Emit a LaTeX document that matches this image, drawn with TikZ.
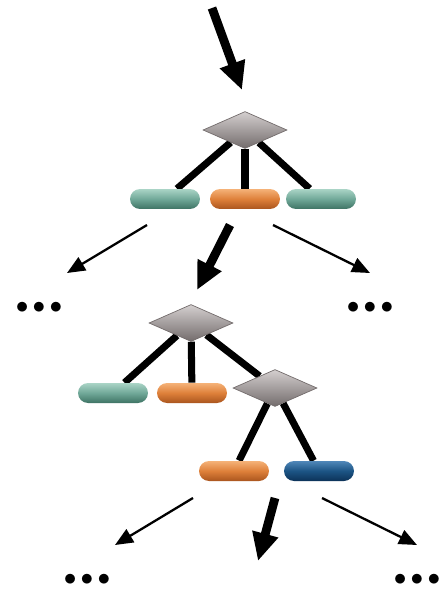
\documentclass[tikz,border=0pt]{standalone}
\usepackage{tikz}
\usetikzlibrary{arrows.meta,backgrounds}
\usetikzlibrary{shapes.geometric}
\definecolor{tealmid}{RGB}{112,168,152}
\definecolor{teallight}{RGB}{170,212,198}
\definecolor{tealdark}{RGB}{62,115,100}
\definecolor{orangemid}{RGB}{222,128,58}
\definecolor{orangelight}{RGB}{245,178,120}
\definecolor{orangedark}{RGB}{170,85,30}
\definecolor{bluemid}{RGB}{28,84,132}
\definecolor{bluelight}{RGB}{80,135,185}
\definecolor{bluedark}{RGB}{12,50,88}
\definecolor{greylight}{RGB}{212,207,207}
\definecolor{greydark}{RGB}{115,108,108}

\begin{document}
\begin{tikzpicture}[x=0.02cm,y=-0.02cm]
			\def\lw{4pt}

			\tikzset{line/.style={draw,line width=\lw,black}}
			\tikzset{bigarrow/.style={draw,line width=5pt,-{Triangle[length=0.56cm,width=0.5cm]}}}
			\tikzset{smallarrow/.style={draw,line width=1.3pt,-{Triangle[length=0.36cm,width=0.3cm]}}}
			\tikzset{pill/.style={shape=rectangle,rounded corners=0.2cm,minimum width=1.4cm,minimum height=0.4cm,inner sep=0pt}}
			\tikzset{teal/.style={pill,top color=teallight,bottom color=tealdark,middle color=tealmid}}
			\tikzset{orng/.style={pill,top color=orangelight,bottom color=orangedark,middle color=orangemid}}
			\tikzset{blu/.style={pill,top color=bluelight,bottom color=bluedark,middle color=bluemid}}
			\tikzset{split/.style={shape=diamond,minimum width=1.68cm,minimum height=0.74cm,inner sep=0pt,top color=greylight,bottom color=greydark,draw=greydark,line width=0.4pt}}
			\tikzset{more/.style={inner sep=0pt,font=\fontsize{15}{15}\selectfont}}
			\def\dots{$\bullet\mkern-1mu\bullet\mkern-1mu\bullet$}

			\useasboundingbox (0,0) rectangle (443,591);

			% first split
			\node[split] (d1) at (245,130) {};
			\node[teal] (p1) at (165,199) {};
			\node[orng] (p2) at (245,199) {};
			\node[teal] (p3) at (321,199) {};

			% second split
			\node[split] (d2) at (191,323) {};
			\node[teal] (q1) at (113,393) {};
			\node[orng] (q2) at (192,393) {};
			\node[split] (d3) at (275,388) {};
			\node[orng] (r1) at (234,471) {};
			\node[blu] (r2) at (319,471) {};

			\node[more] (m1) at (39,308) {\dots};
			\node[more] (m2) at (370,308) {\dots};
			\node[more] (m3) at (87,580) {\dots};
			\node[more] (m4) at (417,580) {\dots};

			\begin{scope}[on background layer]
				\path[line] (d1) -- (p1);
				\path[line] (d1) -- (p2);
				\path[line] (d1) -- (p3);
				\path[line] (d2) -- (q1);
				\path[line] (d2) -- (q2);
				\path[line] (d2) -- (d3);
				\path[line] (d3) -- (r1);
				\path[line] (d3) -- (r2);
			\end{scope}

			\coordinate (in) at (212,8);
			\coordinate (a1) at (147,225);
			\coordinate (b1) at (67,273);
			\coordinate (a2) at (230,225);
			\coordinate (a3) at (273,225);
			\coordinate (b3) at (370,273);
			\coordinate (a4) at (193,498);
			\coordinate (b4) at (115,545);
			\coordinate (a5) at (275,498);
			\coordinate (b5) at (258,561);
			\coordinate (a6) at (322,498);
			\coordinate (b6) at (417,545);

			\path[bigarrow] (in) -- (242,90);
			\path[smallarrow] (a1) -- (b1);
			\path[bigarrow] (a2) -- (197,290);
			\path[smallarrow] (a3) -- (b3);
			\path[smallarrow] (a4) -- (b4);
			\path[bigarrow] (a5) -- (b5);
			\path[smallarrow] (a6) -- (b6);
\end{tikzpicture}
\end{document}
